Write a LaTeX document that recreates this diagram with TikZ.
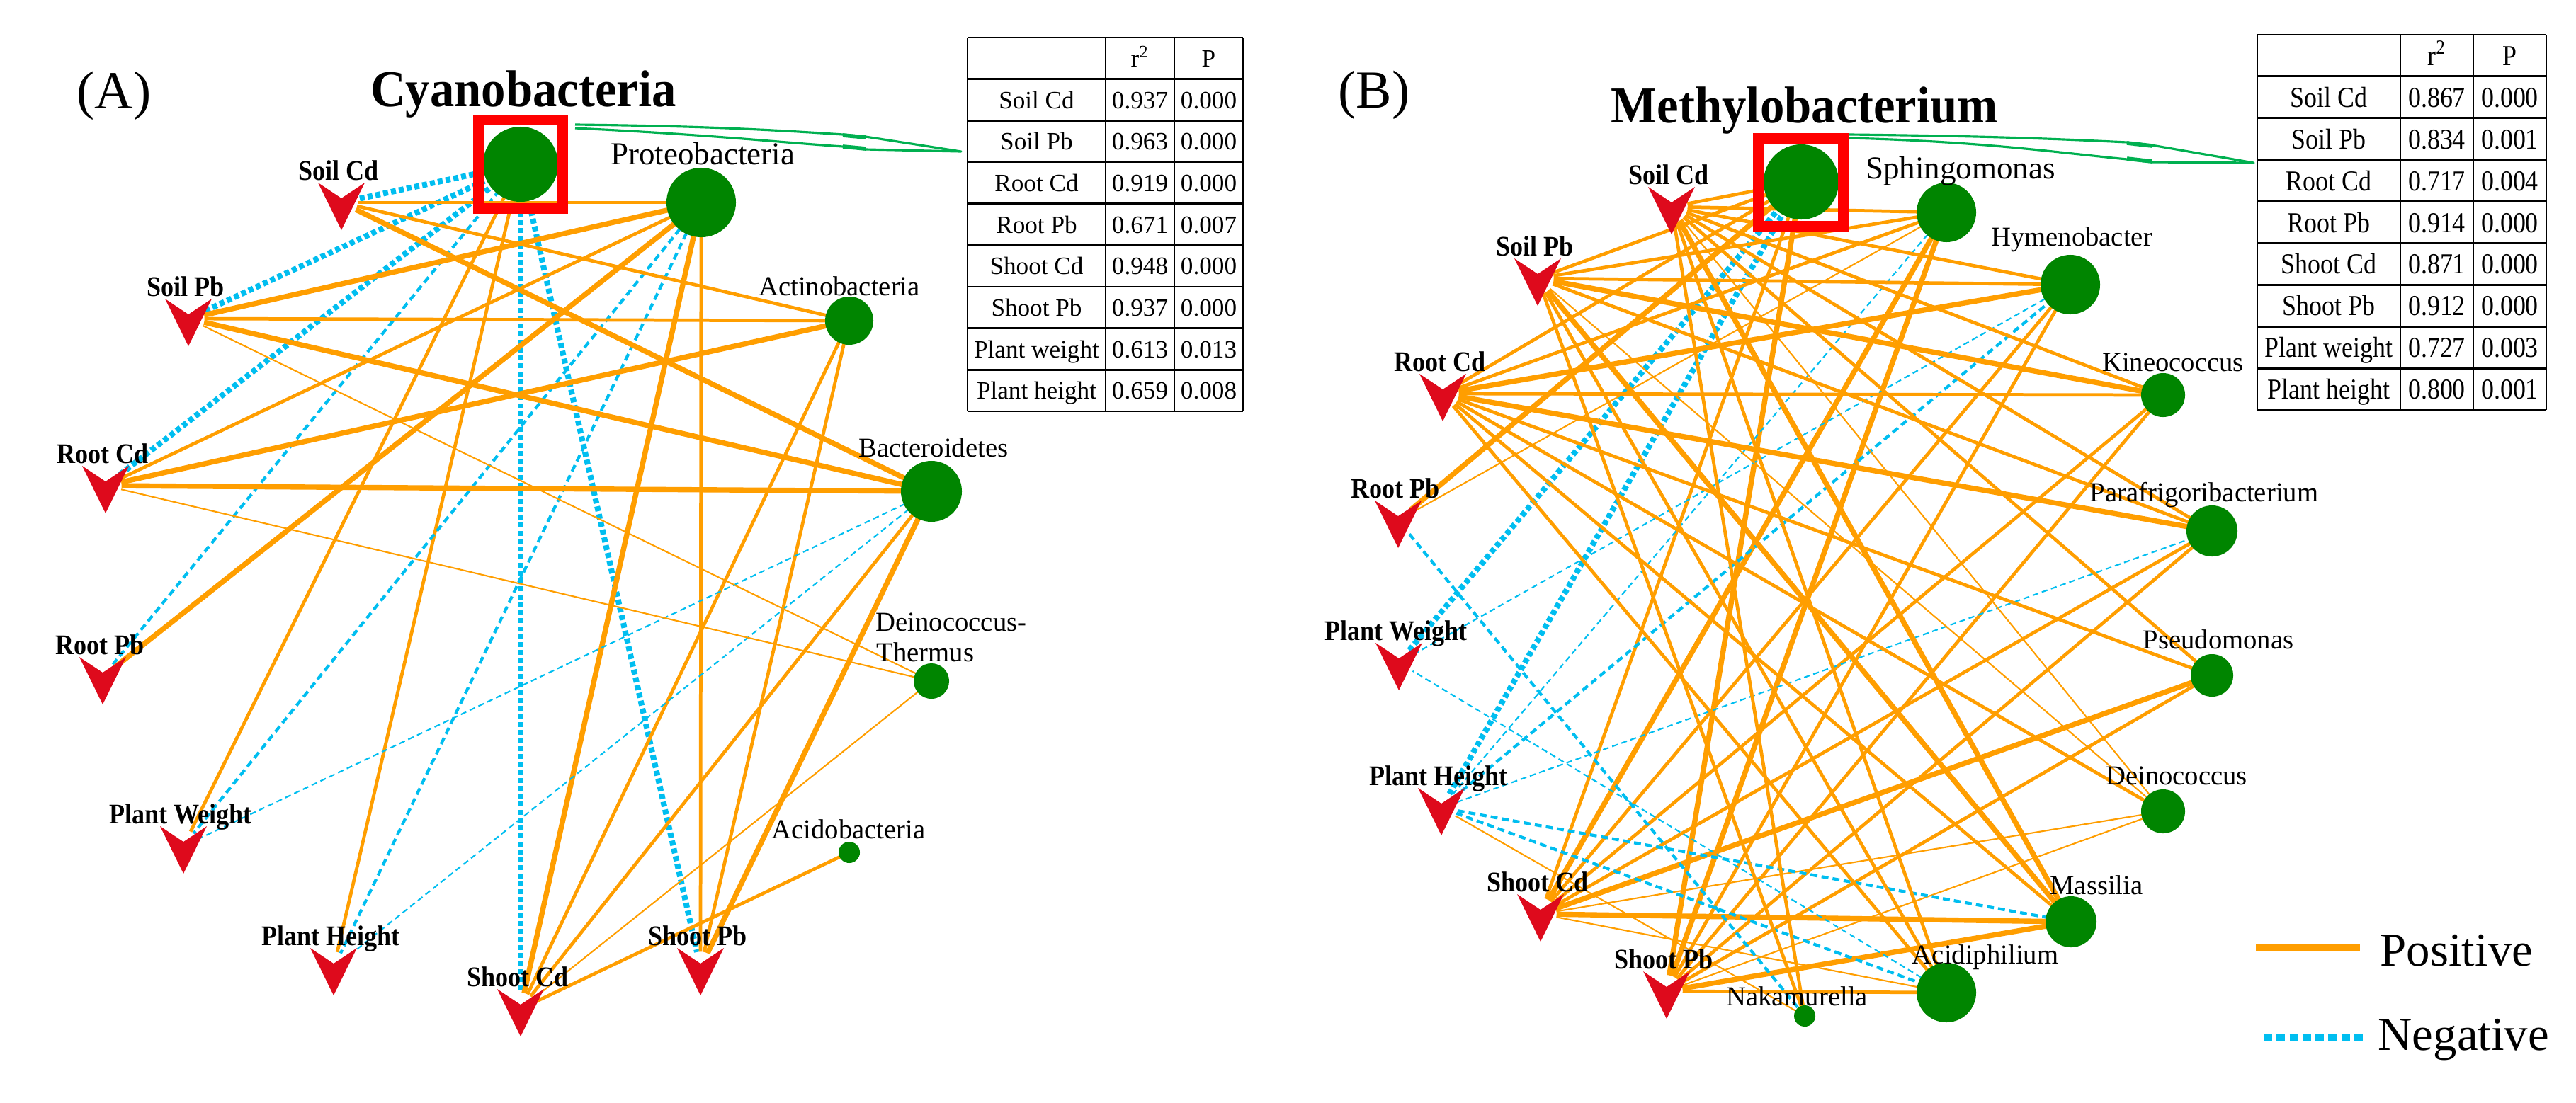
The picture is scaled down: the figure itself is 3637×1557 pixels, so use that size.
\documentclass[tikz,border=0pt]{standalone}
\usepackage{fontspec}
\setmainfont{Liberation Serif}
\usepackage{graphicx}
\pgfdeclarelayer{bg}
\pgfsetlayers{bg,main}
\definecolor{orng}{RGB}{255,158,0}
\definecolor{blu}{RGB}{0,190,240}
\definecolor{gnode}{RGB}{0,133,0}
\definecolor{redv}{RGB}{222,10,28}
\definecolor{garr}{RGB}{0,176,80}
\tikzset{
 o1/.style={orng, line width=0.6pt},
 o2/.style={orng, line width=1.35pt},
 o3/.style={orng, line width=2.1pt},
 b1/.style={blu, line width=0.6pt, dash pattern=on 2.4pt off 1.5pt},
 b2/.style={blu, line width=1.2pt, dash pattern=on 2.8pt off 1.7pt},
 b3/.style={blu, line width=2.3pt, dash pattern=on 2pt off 1.2pt},
 genus/.style={circle, fill=gnode, inner sep=0pt, minimum size=#1},
 vhub/.style={circle, inner sep=0pt, minimum size=0.44cm},
 varlab/.style={inner sep=0pt, font=\fontsize{11.4}{13}\selectfont\bfseries},
 glab/.style={inner sep=0pt, font=\fontsize{11}{13}\selectfont},
 glabbig/.style={inner sep=0pt, font=\fontsize{12.8}{15}\selectfont},
 titlab/.style={inner sep=0pt, font=\fontsize{20.8}{24}\selectfont\bfseries},
 plab/.style={inner sep=0pt, font=\fontsize{21.5}{24}\selectfont},
 tabA/.style={inner sep=0pt, font=\fontsize{10}{12}\selectfont},
 tabB/.style={inner sep=0pt, font=\fontsize{11.6}{13}\selectfont},
 legt/.style={inner sep=0pt, font=\fontsize{19}{22}\selectfont},
 hilite/.style={draw=red, line width=4.3pt, inner sep=0pt},
 garrow/.style={garr, line width=0.9pt, line join=round},
 gbarb/.style={garr, line width=1.6pt},
 tline/.style={black, line width=0.8pt}
}
\newcommand{\varnode}[4]{%
  \node[vhub] (#1) at ({#2},{#3+28}) {};
  \fill[redv] ({#2-33},{#3}) -- ({#2},{#3+22}) -- ({#2+33},{#3}) -- ({#2},{#3+67}) -- cycle;
  \node[varlab, anchor=base] (#1l) at ({#2-4},{#3-4}) {\scalebox{0.9}[1]{#4}};
}
\begin{document}
\begin{tikzpicture}[x=0.01cm,y=-0.01cm]
\begin{pgfonlayer}{bg}
\fill[white] (0,0) rectangle (3637,1557);
\end{pgfonlayer}
\useasboundingbox (0,0) rectangle (3637,1557);

% ---------------- Panel A ----------------
\node[plab, anchor=base] (labA) at (161,153) {(A)};
\node[titlab, anchor=base] (titA) at (739,150) {\scalebox{0.94}[1]{Cyanobacteria}};

\node[genus=1.06cm] (cyA) at (735,232) {};
\node[genus=0.98cm] (prA) at (990,286) {};
\node[genus=0.68cm] (acA) at (1199,453) {};
\node[genus=0.86cm] (baA) at (1315,694) {};
\node[genus=0.50cm] (deA) at (1315,962) {};
\node[genus=0.30cm] (adA) at (1199,1204) {};

\node[glabbig, anchor=base] (prAl) at (992,232) {Proteobacteria};
\node[glab, anchor=base] (acAl) at (1185,417) {Actinobacteria};
\node[glab, anchor=base] (baAl) at (1318,645) {Bacteroidetes};
\node[glab, anchor=base west] (deAl1) at (1236,891) {Deinococcus-};
\node[glab, anchor=base west] (deAl2) at (1237,934) {Thermus};
\node[glab, anchor=base] (adAl) at (1198,1184) {Acidobacteria};

\varnode{scdA}{482}{258}{Soil Cd}
\varnode{spbA}{266}{422}{Soil Pb}
\varnode{rcdA}{149}{658}{Root Cd}
\varnode{rpbA}{145}{928}{Root Pb}
\varnode{pwA}{259}{1167}{Plant Weight}
\varnode{phA}{471}{1339}{Plant Height}
\varnode{shcdA}{735}{1397}{Shoot Cd}
\varnode{shpbA}{989}{1339}{Shoot Pb}

\node[hilite, minimum width=1.19cm, minimum height=1.25cm] (sqA) at (735,232) {};

\begin{pgfonlayer}{bg}
\foreach \g/\v/\s in {cyA/scdA/b3, cyA/spbA/b3, cyA/rcdA/b3, cyA/rpbA/b2, cyA/pwA/o2, cyA/phA/o2, cyA/shcdA/b3, cyA/shpbA/b3,
  prA/scdA/o2, prA/spbA/o3, prA/rcdA/o2, prA/rpbA/o3, prA/pwA/b2, prA/phA/b2, prA/shcdA/o3, prA/shpbA/o2,
  acA/scdA/o2, acA/spbA/o2, acA/rcdA/o3, acA/shcdA/o2, acA/shpbA/o2,
  baA/scdA/o3, baA/spbA/o3, baA/rcdA/o3, baA/pwA/b1, baA/phA/b1, baA/shcdA/o2, baA/shpbA/o3,
  deA/spbA/o1, deA/rcdA/o1, deA/shcdA/o1, adA/shcdA/o2}
  \draw[\s] (\g.center) -- (\v);
\end{pgfonlayer}

% green arrow A
\coordinate (gaA1) at (1357,214);
\draw[garrow] (812,176) .. controls (1000,178) and (1100,184) .. (1190,190) -- (1222,193) -- (gaA1) -- (1222,211) -- (1190,207) .. controls (1100,201) and (1000,190) .. (812,181);
\draw[gbarb] (1190,191) -- (1222,194);
\draw[gbarb] (1190,207) -- (1222,210);

% table A
\foreach \xx in {1366,1561,1658,1755} \draw[tline] (\xx,53) -- (\xx,581);
\foreach \k in {0,...,9} {\pgfmathsetmacro{\yy}{53+58.67*\k} \draw[tline] (1366,\yy) -- (1755,\yy);}
\node[tabA, anchor=base] (tAh1) at (1609.5,94) {r\textsuperscript{2}};
\node[tabA, anchor=base] (tAh2) at (1706.5,94) {P};
\foreach \lab/\r/\p [count=\k] in {Soil Cd/0.937/0.000, Soil Pb/0.963/0.000, Root Cd/0.919/0.000, Root Pb/0.671/0.007, Shoot Cd/0.948/0.000, Shoot Pb/0.937/0.000, Plant weight/0.613/0.013, Plant height/0.659/0.008} {
  \pgfmathsetmacro{\yy}{53+58.67*(\k+0.5)+12}
  \node[tabA, anchor=base] (tAl\k) at (1463.5,\yy) {\lab};
  \node[tabA, anchor=base] (tAr\k) at (1609.5,\yy) {\r};
  \node[tabA, anchor=base] (tAp\k) at (1706.5,\yy) {\p};
}

% ---------------- Panel B ----------------
\node[plab, anchor=base] (labB) at (1940,152) {(B)};
\node[titlab, anchor=base] (titB) at (2548,173) {\scalebox{0.94}[1]{Methylobacterium}};

\node[genus=1.06cm] (mB) at (2543,257) {};
\node[genus=0.84cm] (spB) at (2748,300) {};
\node[genus=0.84cm] (hyB) at (2923,402) {};
\node[genus=0.62cm] (kiB) at (3054,558) {};
\node[genus=0.72cm] (paB) at (3123,750) {};
\node[genus=0.60cm] (psB) at (3123,954) {};
\node[genus=0.62cm] (deB) at (3054,1146) {};
\node[genus=0.72cm] (maB) at (2924,1302) {};
\node[genus=0.84cm] (acpB) at (2748,1402) {};
\node[genus=0.30cm] (naB) at (2548,1435) {};

\node[glabbig, anchor=base] (spBl) at (2768,252) {Sphingomonas};
\node[glab, anchor=base] (hyBl) at (2925,347) {Hymenobacter};
\node[glab, anchor=base] (kiBl) at (3068,524) {Kineococcus};
\node[glab, anchor=base] (paBl) at (3112,708) {Parafrigoribacterium};
\node[glab, anchor=base] (psBl) at (3132,916) {Pseudomonas};
\node[glab, anchor=base] (deBl) at (3073,1108) {Deinococcus};
\node[glab, anchor=base] (maBl) at (2960,1263) {Massilia};
\node[glab, anchor=base] (acpBl) at (2803,1361) {Acidiphilium};
\node[glab, anchor=base] (naBl) at (2537,1420) {Nakamurella};

\varnode{scdB}{2360}{264}{Soil Cd}
\varnode{spbB}{2171}{365}{Soil Pb}
\varnode{rcdB}{2037}{528}{Root Cd}
\varnode{rpbB}{1974}{707}{Root Pb}
\varnode{pwB}{1975}{908}{Plant Weight}
\varnode{phB}{2035}{1113}{Plant Height}
\varnode{shcdB}{2175}{1263}{Shoot Cd}
\varnode{shpbB}{2353}{1372}{Shoot Pb}

\node[hilite, minimum width=1.20cm, minimum height=1.24cm] (sqB) at (2542.5,257.5) {};

\begin{pgfonlayer}{bg}
\foreach \g/\v/\s in {mB/scdB/o2, mB/spbB/o2, mB/rcdB/o2, mB/rpbB/o3, mB/pwB/b3, mB/phB/b3, mB/shcdB/o2, mB/shpbB/o3,
  spB/scdB/o2, spB/spbB/o2, spB/rcdB/o2, spB/rpbB/o1, spB/phB/b1, spB/shcdB/o3, spB/shpbB/o3,
  hyB/scdB/o2, hyB/spbB/o2, hyB/rcdB/o3, hyB/pwB/b1, hyB/phB/b2, hyB/shcdB/o2, hyB/shpbB/o2,
  kiB/scdB/o2, kiB/spbB/o3, kiB/rcdB/o2, kiB/shcdB/o2, kiB/shpbB/o2,
  paB/scdB/o2, paB/spbB/o2, paB/rcdB/o3, paB/phB/b1, paB/shcdB/o2, paB/shpbB/o2,
  psB/scdB/o2, psB/rcdB/o2, psB/shcdB/o3, psB/shpbB/o2,
  deB/scdB/o1, deB/spbB/o1, deB/rcdB/o2, deB/shcdB/o1, deB/shpbB/o1,
  maB/scdB/o3, maB/spbB/o3, maB/rcdB/o2, maB/phB/b2, maB/shcdB/o3, maB/shpbB/o3,
  acpB/scdB/o2, acpB/spbB/o2, acpB/rcdB/o2, acpB/pwB/b1, acpB/phB/b2, acpB/shcdB/o1, acpB/shpbB/o2,
  naB/scdB/o2, naB/spbB/o2, naB/rpbB/b2, naB/phB/o1}
  \draw[\s] (\g.center) -- (\v);
\end{pgfonlayer}

% green arrow B
\coordinate (gaB1) at (3182,230);
\draw[garrow] (2611,190) .. controls (2800,192) and (2900,196) .. (3003,201) -- (3038,205) -- (gaB1) -- (3038,229) -- (3003,225) .. controls (2900,215) and (2800,200) .. (2611,195);
\draw[gbarb] (3003,202) -- (3038,206);
\draw[gbarb] (3003,224) -- (3038,228);

% table B
\foreach \xx in {3187,3389,3492,3595} \draw[tline] (\xx,49) -- (\xx,579);
\foreach \k in {0,...,9} {\pgfmathsetmacro{\yy}{49+58.89*\k} \draw[tline] (3187,\yy) -- (3595,\yy);}
\node[tabB, anchor=base] (tBh1) at (3440.5,92) {\scalebox{0.88}[1]{r\textsuperscript{2}}};
\node[tabB, anchor=base] (tBh2) at (3543.5,92) {\scalebox{0.88}[1]{P}};
\foreach \lab/\r/\p [count=\k] in {Soil Cd/0.867/0.000, Soil Pb/0.834/0.001, Root Cd/0.717/0.004, Root Pb/0.914/0.000, Shoot Cd/0.871/0.000, Shoot Pb/0.912/0.000, Plant weight/0.727/0.003, Plant height/0.800/0.001} {
  \pgfmathsetmacro{\yy}{49+58.89*(\k+0.5)+14}
  \node[tabB, anchor=base] (tBl\k) at (3288,\yy) {\scalebox{0.88}[1]{\lab}};
  \node[tabB, anchor=base] (tBr\k) at (3440.5,\yy) {\scalebox{0.88}[1]{\r}};
  \node[tabB, anchor=base] (tBp\k) at (3543.5,\yy) {\scalebox{0.88}[1]{\p}};
}

% legend
\coordinate (lp1) at (3185,1338);
\coordinate (lp2) at (3332,1338);
\draw[orng, line width=2.6pt] (lp1) -- (lp2);
\node[legt, anchor=base west] (posT) at (3360,1364) {Positive};
\coordinate (ln1) at (3196,1466);
\coordinate (ln2) at (3336,1466);
\draw[blu, line width=2.6pt, dash pattern=on 3.4pt off 1.8pt] (ln1) -- (ln2);
\node[legt, anchor=base west] (negT) at (3357,1483) {Negative};
\end{tikzpicture}
\end{document}
